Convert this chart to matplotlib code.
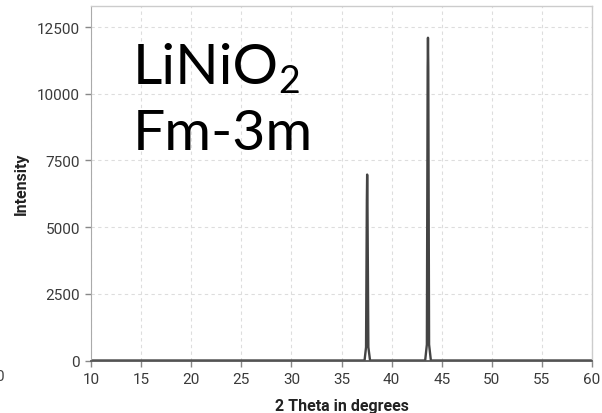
import matplotlib
matplotlib.use("Agg")
import matplotlib.pyplot as plt

# Data
two_theta = [10.0, 37.30, 37.45, 37.53, 37.56, 37.59, 37.68, 37.85,
             43.35, 43.52, 43.60, 43.63, 43.66, 43.74, 43.92, 60.0]
intensity = [0, 0, 500, 6000, 6970, 6000, 500, 0,
             0, 600, 11000, 12100, 11000, 600, 0, 0]
x_ticks = [10, 15, 20, 25, 30, 35, 40, 45, 50, 55, 60]
y_ticks = [0, 2500, 5000, 7500, 10000, 12500]
formula_main = "LiNiO"
formula_sub = "2"
space_group = "Fm-3m"

W, H = 602, 414
fig = plt.figure(figsize=(W/100, H/100), dpi=100)
ax = fig.add_axes([91/W, (H-361.5)/H, 501/W, 354.5/H])

ax.plot(two_theta, intensity, color="#444444", lw=1.7)
ax.set_xlim(10, 60)
ax.set_ylim(0, 13290)
ax.set_xticks(x_ticks)
ax.set_yticks(y_ticks)

ax.grid(True, color="#dddddd", ls=(0, (3, 3)), lw=0.8)
ax.set_axisbelow(True)

for side in ["top", "right"]:
    ax.spines[side].set_color("#cccccc")
    ax.spines[side].set_linewidth(1.0)
ax.spines["left"].set_color("#aaaaaa")
ax.spines["bottom"].set_color("#555555")
ax.spines["bottom"].set_linewidth(1.3)

ax.tick_params(axis="both", length=4, width=1, color="#888888",
               labelsize=11, labelcolor="#3a3a3a", pad=4)
for lbl in ax.get_xticklabels() + ax.get_yticklabels():
    lbl.set_fontfamily("Roboto")

ax.set_xlabel("2 Theta in degrees", fontfamily="Roboto", fontweight="bold",
              fontsize=11.5, color="#222222", labelpad=9)
ax.set_ylabel("Intensity", fontfamily="Roboto", fontweight="bold",
              fontsize=11.5, color="#222222", labelpad=6)

def px(x, y):
    return x / W, 1 - y / H

t1 = fig.text(*px(133, 84), formula_main, fontsize=41, fontfamily="Lato",
              fontweight="normal", color="black", va="baseline", ha="left")
fig.text(*px(133, 150), space_group, fontsize=41, fontfamily="Lato",
         fontweight="normal", color="black", va="baseline", ha="left")
renderer = fig.canvas.get_renderer()
bb = t1.get_window_extent(renderer)
fig.text((bb.x1 - 1) / W, 1 - 93 / H, formula_sub, fontsize=27, fontfamily="Lato",
         fontweight="normal", color="black", va="baseline", ha="left")

fig.text(-0.008, (H-377)/H, "0", fontsize=11, color="#444444",
         fontfamily="Roboto", va="center", ha="left")

fig.savefig("out.png", dpi=100)
